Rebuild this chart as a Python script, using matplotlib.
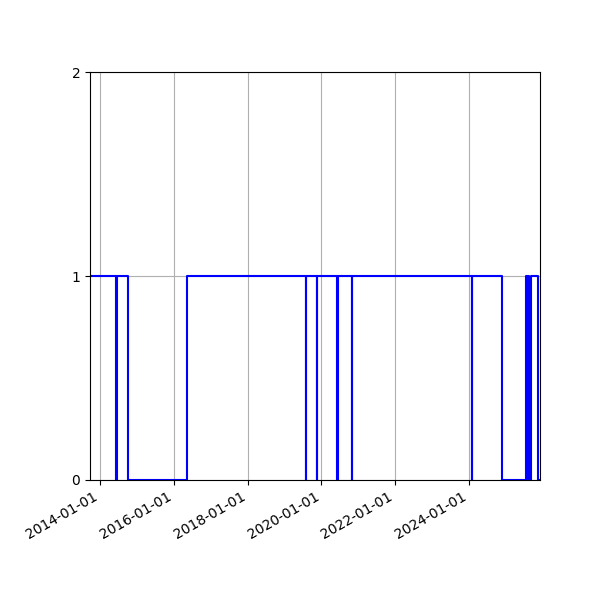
import numpy as np
import pandas as pd
import matplotlib
matplotlib.use('Agg')
import matplotlib.pyplot as plt
import matplotlib.dates as mdates


# change points of the on/off state (step, post)
dates = ['2013-09-24', '2014-06-12', '2014-06-16', '2014-10-05', '2016-05-11',
         '2019-08-01', '2019-08-02', '2019-11-15', '2019-11-17',
         '2020-06-01', '2020-06-13', '2020-10-30', '2020-10-31',
         '2024-01-30', '2024-02-02', '2024-11-20',
         '2025-07-14', '2025-07-29', '2025-08-11', '2025-08-21', '2025-09-02',
         '2025-11-17', '2025-12-04']
states = [1, 0, 1, 0, 1,
          0, 1, 0, 1,
          0, 1, 0, 1,
          0, 1, 0,
          1, 0, 1, 0, 1,
          0, 0]

x = pd.to_datetime(dates)
y = np.array(states)

fig, ax = plt.subplots(figsize=(6, 6), dpi=100)

ax.step(x, y, where='post', color='blue', linewidth=1.5)

ax.set_xlim(x[0], x[-1])
ax.set_ylim(0, 2)
ax.yaxis.set_ticks([0, 1, 2])

ax.xaxis.set_major_locator(mdates.YearLocator(2))
ax.xaxis.set_major_formatter(mdates.DateFormatter('%Y-%m-%d'))
ax.grid(True)

fig.autofmt_xdate()
plt.subplots_adjust(left=0.15, right=0.9, top=0.88, bottom=0.2)

plt.savefig('out.png', dpi=100)
plt.close('all')
